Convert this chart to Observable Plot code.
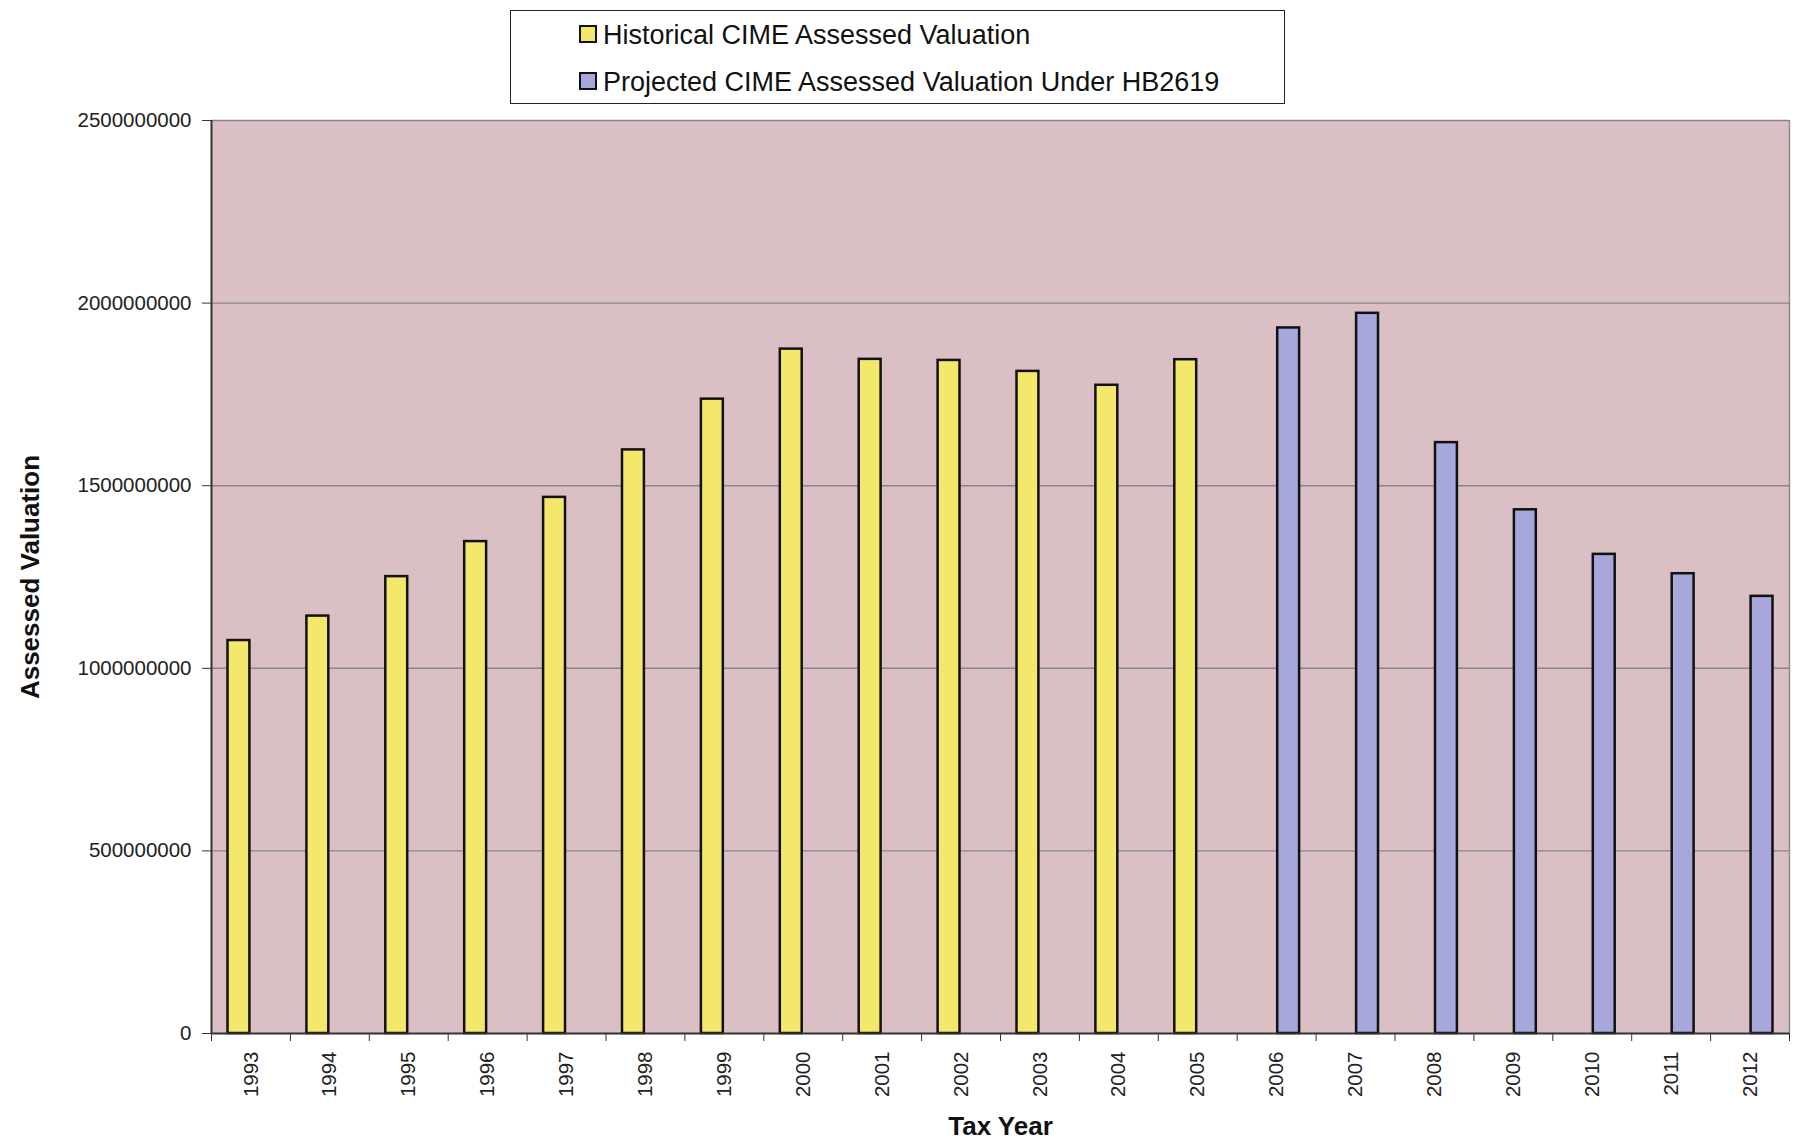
<!DOCTYPE html>
<html>
<head>
<meta charset="utf-8">
<script src="https://cdn.jsdelivr.net/npm/d3@7"></script>
<script src="https://cdn.jsdelivr.net/npm/@observablehq/plot@0.6"></script>
<style>
  body { margin: 0; background: #fff; font-family: "Liberation Sans", Arial, sans-serif; }
  #wrap { position: relative; width: 1796px; }
  #legend { position: relative; height: 108px; width: 1796px; }
  #legend .box { position: absolute; left: 510px; top: 10px; width: 773px; height: 92px; border: 1.5px solid #222; }
  #legend .sw { position: absolute; width: 18px; height: 18px; box-sizing: border-box; border: 2.5px solid #111; }
  #legend .tx { position: absolute; font-size: 27px; line-height: 1; color: #111; white-space: nowrap; }
  svg { display: block; }
</style>
</head>
<body>
<div id="wrap">
  <div id="legend"></div>
  <div id="chart"></div>
</div>
<script>
// ---- data ----
const years = [1993, 1994, 1995, 1996, 1997, 1998, 1999, 2000, 2001, 2002, 2003, 2004, 2005, 2006, 2007, 2008, 2009, 2010, 2011, 2012];
const historicalYears = [1993, 1994, 1995, 1996, 1997, 1998, 1999, 2000, 2001, 2002, 2003, 2004, 2005];
const historicalValues = [1076000000, 1143000000, 1251000000, 1347000000, 1468000000, 1598000000, 1737000000, 1874000000, 1846000000, 1843000000, 1813000000, 1775000000, 1845000000];
const projectedYears = [2006, 2007, 2008, 2009, 2010, 2011, 2012];
const projectedValues = [1932000000, 1972000000, 1618000000, 1434000000, 1312000000, 1259000000, 1197000000];
const yTicks = [0, 500000000, 1000000000, 1500000000, 2000000000, 2500000000];
const seriesNames = ["Historical CIME Assessed Valuation", "Projected CIME Assessed Valuation Under HB2619"];
const xTitle = "Tax Year";
const yTitle = "Assessed Valuation";

const colors = { hist: "#f4e86c", proj: "#a7a7dc", bg: "#dac0c5", grid: "#878787", axis: "#333" };

const histRows = historicalYears.map((year, i) => ({ year, value: historicalValues[i] }));
const projRows = projectedYears.map((year, i) => ({ year, value: projectedValues[i] }));
const boundaries = years.map(y => y - 0.5).concat([years[years.length - 1] + 0.5]);

// ---- legend ----
const legend = document.getElementById("legend");
legend.innerHTML = `
  <div class="box"></div>
  <div class="sw" style="left:579px;top:25px;background:${colors.hist}"></div>
  <div class="tx" style="left:603px;top:22px">${seriesNames[0]}</div>
  <div class="sw" style="left:579px;top:72px;background:${colors.proj}"></div>
  <div class="tx" style="left:603px;top:69px">${seriesNames[1]}</div>
`;

// ---- chart ----
const chart = Plot.plot({
  width: 1796,
  height: 1035,
  marginTop: 12,
  marginBottom: 110,
  marginLeft: 211,
  marginRight: 7,
  style: { fontFamily: "Liberation Sans, Arial, sans-serif", fontSize: "20.5px", color: "#222", background: "transparent" },
  x: { type: "linear", domain: [years[0] - 0.5, years[years.length - 1] + 0.5] },
  y: { domain: [0, 2500000000] },
  marks: [
    Plot.frame({ fill: colors.bg }),
    Plot.ruleY(yTicks.slice(1), { stroke: colors.grid, strokeWidth: 1.4 }),
    Plot.ruleX([years[years.length - 1] + 0.5], { stroke: colors.grid, strokeWidth: 1.4 }),
    Plot.rectY(histRows, { x1: d => d.year - 0.5, x2: d => d.year + 0.5, y: "value", fill: colors.hist, stroke: "#111", strokeWidth: 2.5, insetLeft: 16.5, insetRight: 40.5 }),
    Plot.rectY(projRows, { x1: d => d.year - 0.5, x2: d => d.year + 0.5, y: "value", fill: colors.proj, stroke: "#111", strokeWidth: 2.5, insetLeft: 40.5, insetRight: 16.5 }),
    Plot.ruleX([years[0] - 0.5], { stroke: colors.axis, strokeWidth: 2 }),
    Plot.ruleY([0], { stroke: colors.axis, strokeWidth: 2 }),
    Plot.axisY({ ticks: yTicks, tickSize: 9, tickPadding: 11, tickFormat: d => String(d), fontSize: 20.5, stroke: colors.axis, label: null }),
    Plot.axisX({ ticks: boundaries, tickSize: 8, tickFormat: () => "", stroke: colors.axis, label: null }),
    Plot.axisX({ ticks: years, tickSize: 0, tickPadding: 18, tickRotate: -90, tickFormat: d => String(d), fontSize: 20.5, label: null }),
    Plot.text([xTitle], { text: d => d, frameAnchor: "bottom", dy: 101, lineAnchor: "bottom", fontSize: 26, fontWeight: "bold", fill: "#111" }),
    Plot.text([yTitle], { text: d => d, frameAnchor: "left", textAnchor: "middle", dx: -181, rotate: -90, fontSize: 26, fontWeight: "bold", fill: "#111" })
  ]
});
document.getElementById("chart").appendChild(chart);
</script>
</body>
</html>
